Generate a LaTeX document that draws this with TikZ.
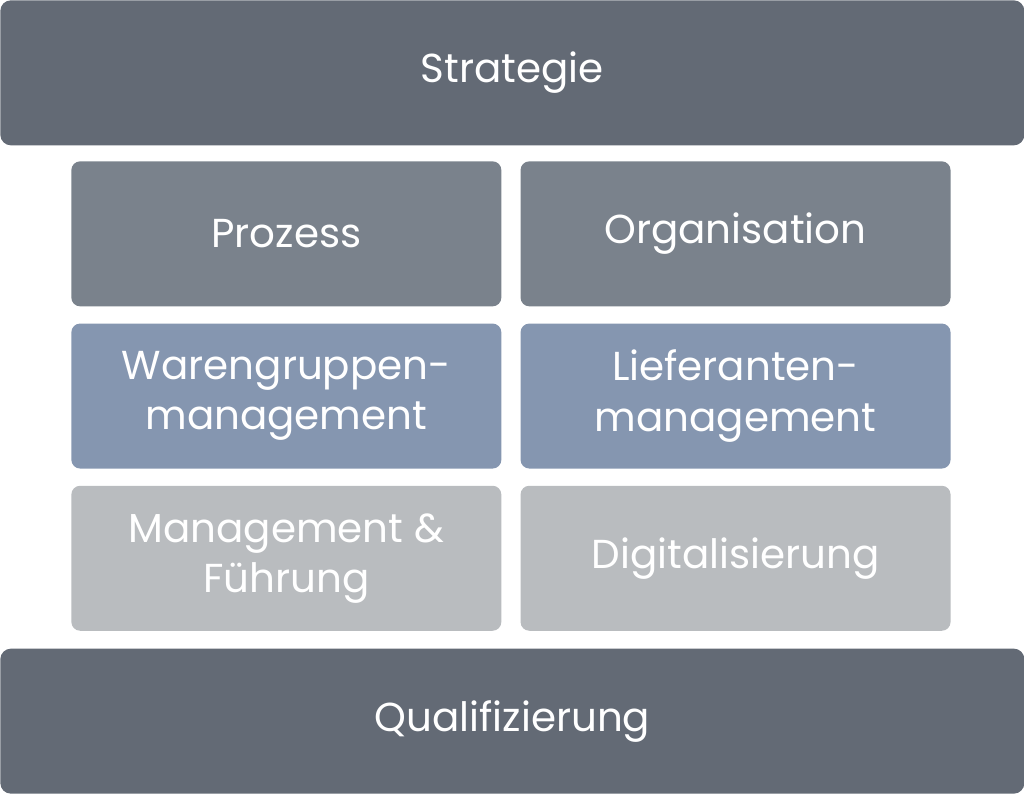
\documentclass[tikz,border=0pt]{standalone}
\usepackage{fontspec}
\setmainfont{Poppins}
\usetikzlibrary{positioning}
\definecolor{bardark}{HTML}{636A75}
\definecolor{cellgrey}{HTML}{7A828C}
\definecolor{cellblue}{HTML}{8596B0}
\definecolor{celllight}{HTML}{B9BCBF}
\newcommand{\barwidth}{20.48cm}
\newcommand{\barheight}{2.9cm}
\newcommand{\cellwidth}{8.6cm}
\newcommand{\cellheight}{2.9cm}
\newcommand{\vgap}{0.33cm}
\newcommand{\hgap}{0.37cm}
\tikzstyle{layer}=[fill=bardark,text=white,draw=none,shape=rectangle,rounded corners=6pt,
                   minimum width=\barwidth,minimum height=\barheight,inner sep=0pt,
                   font=\fontsize{23}{28.5}\selectfont]
\tikzstyle{cell}=[text=white,draw=none,shape=rectangle,rounded corners=5pt,
                  minimum width=\cellwidth,minimum height=\cellheight,inner sep=0pt,
                  align=center,font=\fontsize{23}{28.5}\selectfont]

\begin{document}
\begin{tikzpicture}
\useasboundingbox (0,0) rectangle (20.48,-15.88);

\node [layer, anchor=north west] (strat) at (0,0) {Strategie};

\node [cell, fill=cellgrey, anchor=north west] (proz) at (1.42,-3.22) {Prozess};
\node [cell, fill=cellgrey, right= \hgap of proz] (org) {Organisation};

\node [cell, fill=cellblue, below= \vgap of proz] (wg) {Warengruppen-\\management};
\node [cell, fill=cellblue, right= \hgap of wg] (lief) {Lieferanten-\\management};

\node [cell, fill=celllight, below= \vgap of wg] (mgmt) {Management \&\\Führung};
\node [cell, fill=celllight, right= \hgap of mgmt] (digi) {Digitalisierung};

\node [layer, anchor=south west] (quali) at (0,-15.88) {Qualifizierung};
\end{tikzpicture}
\end{document}
